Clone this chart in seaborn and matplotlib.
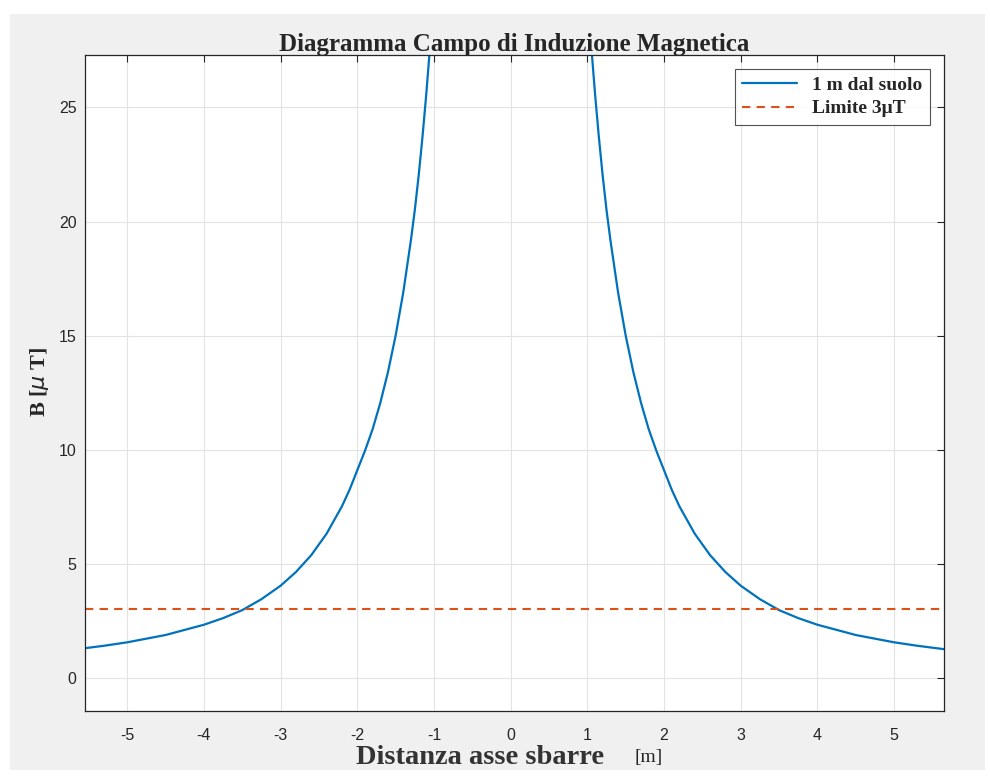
import matplotlib
matplotlib.use("Agg")
import matplotlib.pyplot as plt
from matplotlib.lines import Line2D
from matplotlib.patches import Rectangle
import seaborn as sns
import pandas as pd

# distance from the bar axis (right half) and field
dist_side = [1.06, 1.1, 1.15, 1.2, 1.25, 1.3, 1.4, 1.5, 1.6, 1.7, 1.8, 1.9,
             2.0, 2.1, 2.2, 2.4, 2.6, 2.8, 3.0, 3.25, 3.5, 3.75, 4.0, 4.5,
             5.0, 5.3, 5.65]
b_side = [27.3, 25.6, 23.7, 22.0, 20.5, 19.2, 16.9, 15.0, 13.4, 12.05, 10.9, 9.95,
          9.1, 8.25, 7.52, 6.32, 5.38, 4.64, 4.04, 3.45, 2.97, 2.62, 2.33, 1.88,
          1.56, 1.41, 1.26]
limit_uT = 3.0
x_ticks = [-5, -4, -3, -2, -1, 0, 1, 2, 3, 4, 5]
y_ticks = [0, 5, 10, 15, 20, 25]

left = pd.DataFrame({"x": [-d for d in dist_side], "B": b_side, "side": "sx"})
right = pd.DataFrame({"x": dist_side, "B": b_side, "side": "dx"})
df = pd.concat([left, right], ignore_index=True)
lim_df = pd.DataFrame({"x": [-5.55, 5.65], "B": [limit_uT, limit_uT]})

sns.set_style("white")
plt.rcParams["font.family"] = ["Liberation Sans", "DejaVu Sans"]

blue = "#0072BD"
orange = "#D95319"

fig = plt.figure(figsize=(9.9, 7.77), dpi=100, facecolor="white")
fig.patches.append(Rectangle((10 / 990, 7 / 777), 975 / 990, 756 / 777,
                             transform=fig.transFigure, facecolor="#f0f0f0",
                             edgecolor="none", zorder=-10))
ax = fig.add_axes([85 / 990, 1 - 711 / 777, 859 / 990, 656 / 777])
ax.set_facecolor("white")

sns.lineplot(data=df, x="x", y="B", units="side", estimator=None, sort=True,
             color=blue, linewidth=1.6, ax=ax, legend=False)
sns.lineplot(data=lim_df, x="x", y="B", color=orange, linestyle=(0, (4, 3)),
             linewidth=1.5, ax=ax, legend=False)

ax.set_xlim(-5.55, 5.65)
ax.set_ylim(-1.45, 27.3)
ax.set_xticks(x_ticks)
ax.set_xticklabels([str(t) for t in x_ticks])
ax.set_yticks(y_ticks)
ax.grid(True, color="#e3e3e3", linewidth=0.8)
ax.tick_params(direction="in", length=5, width=0.8, colors="#262626",
               labelsize=11.5, top=True, right=True, pad=12)
ax.tick_params(axis="y", pad=6)
for s in ax.spines.values():
    s.set_color("#262626")
    s.set_linewidth(0.9)
ax.set_xlabel("")
ax.set_ylabel("")

ax.set_title("Diagramma Campo di Induzione Magnetica", fontfamily="Liberation Serif",
             fontweight="bold", fontsize=18, pad=3)

fig.text(0.04, 0.508, r"B [$\mu$ T]", rotation=90, ha="center", va="center",
         fontfamily="Liberation Serif", fontweight="bold", fontsize=16)
fig.text(0.36, 0.025, "Distanza asse sbarre", ha="left", va="center",
         fontfamily="Liberation Serif", fontweight="bold", fontsize=20.5, color="#333333")
fig.text(0.641, 0.025, "[m]", ha="left", va="center",
         fontfamily="Liberation Serif", fontsize=14, color="#222222")

handles = [Line2D([], [], color=blue, linewidth=1.6),
           Line2D([], [], color=orange, linewidth=1.5, linestyle=(0, (4, 3)))]
leg = ax.legend(handles, ["1 m dal suolo", "Limite 3\u03bcT"], loc="upper right",
                prop={"family": "Liberation Serif", "weight": "bold", "size": 14},
                frameon=True, fancybox=False, edgecolor="#262626",
                borderaxespad=0.7, handlelength=2.8, borderpad=0.4,
                labelspacing=0.3)
leg.get_frame().set_linewidth(0.8)

fig.savefig("out.png", dpi=100, facecolor=fig.get_facecolor())
